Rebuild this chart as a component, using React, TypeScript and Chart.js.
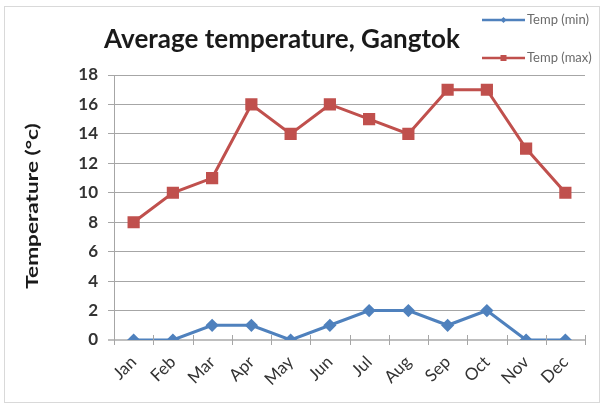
import React, { useEffect, useRef } from "react";
import { Chart, registerables } from "chart.js";

Chart.register(...registerables);

const months = ["Jan", "Feb", "Mar", "Apr", "May", "Jun", "Jul", "Aug", "Sep", "Oct", "Nov", "Dec"];
const tempMin = [0, 0, 1, 1, 0, 1, 2, 2, 1, 2, 0, 0];
const tempMax = [8, 10, 11, 16, 14, 16, 15, 14, 17, 17, 13, 10];
const yTicks = [0, 2, 4, 6, 8, 10, 12, 14, 16, 18];
const titleText = "Average temperature, Gangtok";
const yTitleText = "Temperature (°c)";
const legendMin = "Temp (min)";
const legendMax = "Temp (max)";

const BLUE = "#4f81bd";
const RED = "#c0504d";
const FONT = "Lato, 'Open Sans', sans-serif";

const decorPlugin = {
  id: "decor",
  beforeDraw(chart: any) {
    const ctx = chart.ctx;
    ctx.save();
    ctx.fillStyle = "#ffffff";
    ctx.fillRect(0, 0, chart.width, chart.height);
    ctx.strokeStyle = "#d9d9d9";
    ctx.lineWidth = 1;
    ctx.strokeRect(4.5, 6.5, 595, 396);
    ctx.restore();
  },
  afterDraw(chart: any) {
    const ctx = chart.ctx;
    ctx.save();
    // title
    ctx.fillStyle = "#1a1a1a";
    ctx.font = `bold 26px ${FONT}`;
    ctx.textAlign = "center";
    ctx.textBaseline = "alphabetic";
    ctx.fillText(titleText, 282, 48);
    // y title
    ctx.save();
    ctx.translate(33, 206);
    ctx.rotate(-Math.PI / 2);
    ctx.scale(1.33, 1);
    ctx.textBaseline = "middle";
    ctx.font = `bold 17px ${FONT}`;
    ctx.fillText(yTitleText, 0, 0);
    ctx.restore();
    // legend
    ctx.font = `13px ${FONT}`;
    ctx.textAlign = "left";
    ctx.textBaseline = "middle";
    ctx.lineWidth = 2.5;
    ctx.strokeStyle = BLUE;
    ctx.beginPath();
    ctx.moveTo(482, 20);
    ctx.lineTo(525, 20);
    ctx.stroke();
    ctx.fillStyle = BLUE;
    ctx.beginPath();
    ctx.moveTo(503.5, 17);
    ctx.lineTo(506.5, 20);
    ctx.lineTo(503.5, 23);
    ctx.lineTo(500.5, 20);
    ctx.closePath();
    ctx.fill();
    ctx.fillStyle = "#6b6b6b";
    ctx.fillText(legendMin, 527, 20);
    ctx.strokeStyle = RED;
    ctx.beginPath();
    ctx.moveTo(482, 58);
    ctx.lineTo(525, 58);
    ctx.stroke();
    ctx.fillStyle = RED;
    ctx.fillRect(500.5, 55, 6, 6);
    ctx.fillStyle = "#6b6b6b";
    ctx.fillText(legendMax, 527, 58);
    // x tick marks crossing axis
    const xs = chart.scales.x;
    const ya = chart.scales.y;
    const y0 = ya.getPixelForValue(0);
    ctx.strokeStyle = "#a6a6a6";
    ctx.lineWidth = 1;
    for (let i = 0; i <= months.length; i++) {
      const px = Math.round(xs.left + (xs.width * i) / months.length) + 0.5;
      ctx.beginPath();
      ctx.moveTo(px, y0 - 5);
      ctx.lineTo(px, y0 + 5);
      ctx.stroke();
    }
    ctx.restore();
  },
};

export default function App() {
  const ref = useRef<HTMLCanvasElement | null>(null);
  useEffect(() => {
    document.body.style.margin = "0";
    const canvas = ref.current!;
    const chart = new Chart(canvas, {
      type: "line",
      data: {
        labels: months,
        datasets: [
          {
            label: legendMin,
            data: tempMin,
            borderColor: BLUE,
            backgroundColor: BLUE,
            borderWidth: 3,
            pointStyle: "rectRot",
            pointRadius: 4.5,
            tension: 0,
          },
          {
            label: legendMax,
            data: tempMax,
            borderColor: RED,
            backgroundColor: RED,
            borderWidth: 3,
            pointStyle: "rect",
            pointRadius: 6.5,
            tension: 0,
          },
        ],
      },
      options: {
        animation: false,
        responsive: false,
        maintainAspectRatio: false,
        layout: { padding: { left: 0, top: 75, right: 18, bottom: 0 } },
        plugins: {
          legend: { display: false },
          title: { display: false },
          tooltip: { enabled: false },
        },
        scales: {
          x: {
            offset: true,
            grid: { display: false, offset: true },
            border: { display: false },
            ticks: {
              color: "#333333",
              font: { family: FONT, size: 17 },
              minRotation: 45,
              maxRotation: 45,
              padding: 4,
            },
            afterFit(scale: any) {
              scale.height = 65;
            },
          },
          y: {
            min: 0,
            max: 18,
            afterBuildTicks(scale: any) {
              scale.ticks = yTicks.map((v) => ({ value: v }));
            },
            grid: {
              color: (c: any) => (c.tick && c.tick.value === 0 ? "#bfbfbf" : "#a6a6a6"),
              lineWidth: (c: any) => (c.tick && c.tick.value === 0 ? 2 : 1),
              tickLength: 6,
            },
            border: { display: true, color: "#a6a6a6", width: 1 },
            ticks: {
              color: "#333333",
              font: { family: FONT, size: 17, weight: "bold" },
              padding: 10,
            },
            afterFit(scale: any) {
              scale.width = 114;
            },
          },
        },
      },
      plugins: [decorPlugin],
    } as any);
    return () => chart.destroy();
  }, []);
  return (
    <div style={{ position: "relative", width: 603, height: 405 }}>
      <canvas ref={ref} width={603} height={405} style={{ display: "block", width: 603, height: 405 }} />
    </div>
  );
}
